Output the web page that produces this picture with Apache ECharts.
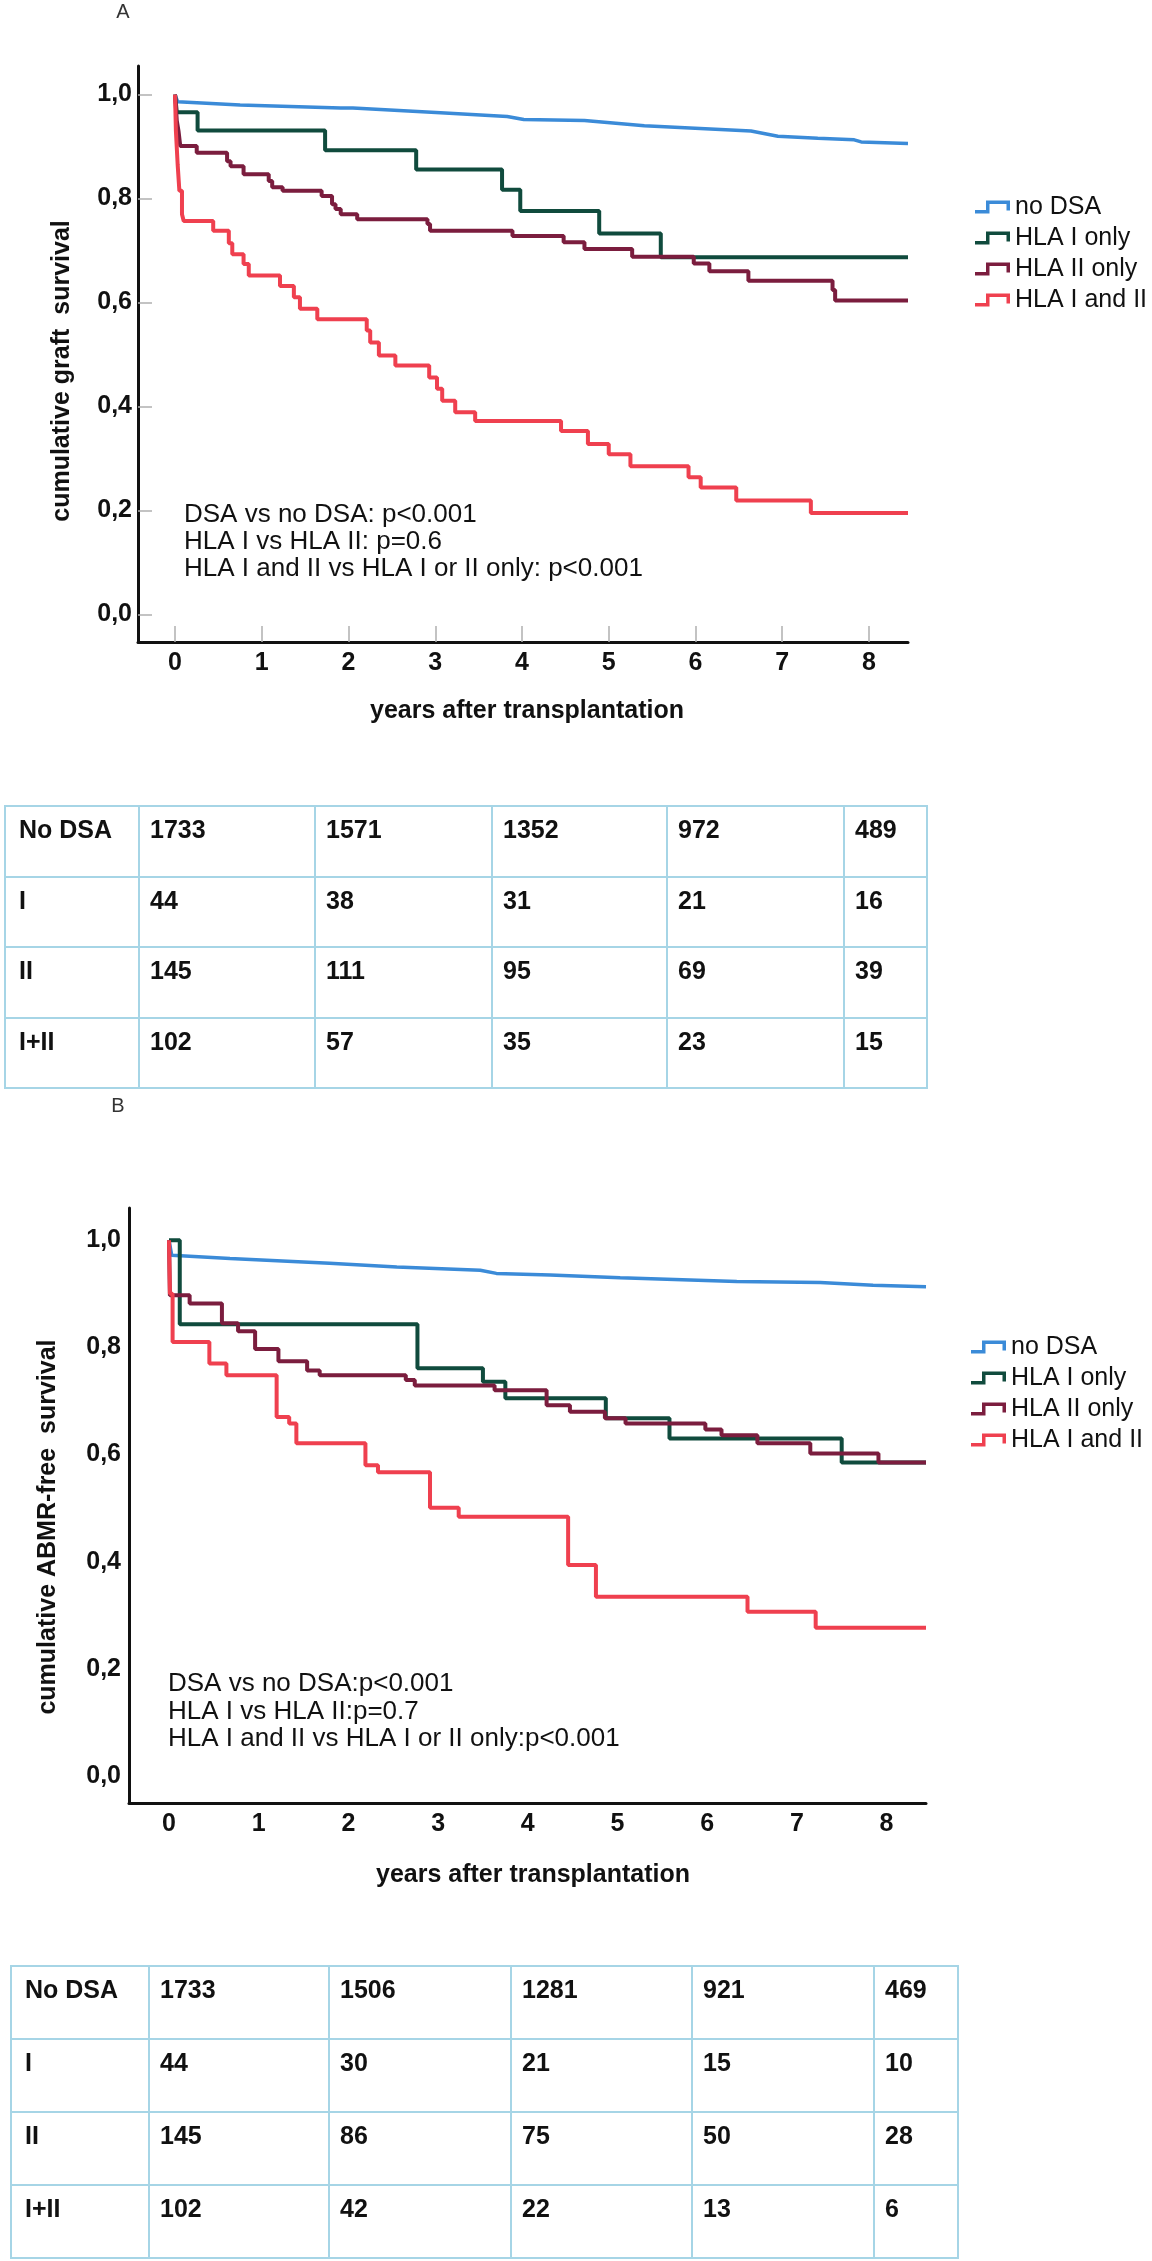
<!DOCTYPE html>
<html>
<head>
<meta charset="utf-8">
<script src="https://cdn.jsdelivr.net/npm/echarts@6/dist/echarts.min.js"></script>
<style>
  html, body { margin: 0; padding: 0; background: #fff; }
  #page { position: relative; width: 1152px; height: 2261px; }
  #chart { position: absolute; left: 0; top: 0; width: 1152px; height: 2261px; }
  table.risk { position: absolute; border-collapse: collapse; table-layout: fixed;
    font-family: 'Liberation Sans', Arial, sans-serif; font-weight: bold; font-size: 25px; color: #111; }
  table.risk td { border: 2px solid #a6d5e6; vertical-align: top; padding: 8px 0 0 10px;
    box-sizing: border-box; white-space: nowrap; overflow: hidden; }
</style>
</head>
<body>
<div id="page">
  <div id="chart"></div>
  <table class="risk" id="tableA" style="left:4px;top:805px;"></table>
  <table class="risk" id="tableB" style="left:10px;top:1965px;"></table>
</div>
<script>
// groups and colours
const groupNames = ['no DSA', 'HLA I only', 'HLA II only', 'HLA I and II']
const groupColors = ['#3b8bd8', '#104b3d', '#7b1d3e', '#ef404f']
const xTicks = [0, 1, 2, 3, 4, 5, 6, 7, 8]
const yTicks = [0, 0.2, 0.4, 0.6, 0.8, 1.0]

// A: graft survival
const aNoDsaT = [0, 0.03, 0.75, 1.91, 2.05, 3.06, 3.83, 4.02, 4.72, 5.41, 6.64, 6.95, 7.41, 7.83, 7.91, 8.45]
const aNoDsaS = [1, 0.986, 0.980, 0.974, 0.974, 0.965, 0.958, 0.952, 0.950, 0.940, 0.930, 0.920, 0.916, 0.913, 0.909, 0.906]
const aHla1T = [0, 0.02, 0.26, 1.73, 2.78, 3.77, 3.98, 4.89, 5.60, 8.45]
const aHla1S = [1, 0.966, 0.931, 0.893, 0.856, 0.817, 0.776, 0.733, 0.687, 0.687]
const aHla2T = [0, 0.02, 0.04, 0.06, 0.25, 0.60, 0.64, 0.79, 1.08, 1.12, 1.24, 1.69, 1.81, 1.85, 1.91, 2.10, 2.91, 2.94, 3.89, 4.48, 4.72, 5.27, 5.98, 6.16, 6.61, 7.58, 7.61, 8.45]
const aHla2S = [1, 0.95, 0.93, 0.901, 0.888, 0.872, 0.862, 0.847, 0.834, 0.822, 0.815, 0.805, 0.789, 0.780, 0.770, 0.760, 0.751, 0.738, 0.728, 0.716, 0.703, 0.688, 0.675, 0.660, 0.642, 0.624, 0.604, 0.604]
const aBothT = [0, 0.01, 0.03, 0.05, 0.08, 0.10, 0.44, 0.62, 0.66, 0.79, 0.85, 1.21, 1.37, 1.44, 1.64, 2.21, 2.25, 2.35, 2.54, 2.93, 3.02, 3.08, 3.23, 3.46, 4.45, 4.76, 5.00, 5.25, 5.92, 6.06, 6.47, 7.33, 8.45]
const aBothS = [1, 0.93, 0.866, 0.815, 0.770, 0.757, 0.738, 0.714, 0.693, 0.674, 0.652, 0.632, 0.610, 0.588, 0.568, 0.546, 0.523, 0.498, 0.479, 0.456, 0.434, 0.411, 0.389, 0.372, 0.353, 0.328, 0.308, 0.285, 0.264, 0.244, 0.219, 0.195, 0.195]

// B: ABMR-free survival
const bNoDsaT = [0, 0.03, 0.68, 1.79, 2.54, 3.47, 3.65, 4.25, 5.03, 6.33, 7.26, 7.85, 8.44]
const bNoDsaS = [1, 0.972, 0.966, 0.957, 0.950, 0.944, 0.938, 0.935, 0.930, 0.923, 0.921, 0.916, 0.913]
const bHla1T = [0, 0.12, 2.77, 3.50, 3.75, 4.87, 5.58, 7.50, 8.44]
const bHla1S = [1, 0.843, 0.761, 0.736, 0.705, 0.668, 0.630, 0.585, 0.585]
const bHla2T = [0, 0.01, 0.23, 0.59, 0.77, 0.96, 1.22, 1.54, 1.68, 2.64, 2.74, 3.63, 4.21, 4.47, 4.86, 5.09, 5.98, 6.16, 6.56, 7.15, 7.91, 8.44]
const bHla2S = [1, 0.897, 0.882, 0.845, 0.830, 0.797, 0.774, 0.757, 0.748, 0.739, 0.729, 0.720, 0.692, 0.680, 0.668, 0.658, 0.647, 0.636, 0.621, 0.602, 0.585, 0.585]
const bBothT = [0, 0.01, 0.04, 0.45, 0.64, 1.20, 1.34, 1.42, 2.19, 2.33, 2.91, 3.23, 4.45, 4.76, 6.45, 7.21, 8.44]
const bBothS = [1, 0.90, 0.810, 0.770, 0.748, 0.670, 0.658, 0.621, 0.580, 0.567, 0.501, 0.484, 0.394, 0.335, 0.307, 0.277, 0.277]

// numbers at risk
const riskRows = ['No DSA', 'I', 'II', 'I+II']
const riskA_noDsa = [1733, 1571, 1352, 972, 489]
const riskA_hla1 = [44, 38, 31, 21, 16]
const riskA_hla2 = [145, 111, 95, 69, 39]
const riskA_both = [102, 57, 35, 23, 15]
const riskB_noDsa = [1733, 1506, 1281, 921, 469]
const riskB_hla1 = [44, 30, 21, 15, 10]
const riskB_hla2 = [145, 86, 75, 50, 28]
const riskB_both = [102, 42, 22, 13, 6]

const notesA = ['DSA vs no DSA: p<0.001', 'HLA I vs HLA II: p=0.6', 'HLA I and II vs HLA I or II only: p<0.001']
const notesB = ['DSA vs no DSA:p<0.001', 'HLA I vs HLA II:p=0.7', 'HLA I and II vs HLA I or II only:p<0.001']

const font = "'Liberation Sans', Arial, sans-serif"
const stepIcon = 'path://M0,9.5L11,9.5L11,0L35,0L35,10L31.5,10L31.5,3.5L14.5,3.5L14.5,13L0,13Z'

function pts(times, surv) {
  return times.map((t, i) => [t, surv[i]])
}

function curve(idx, axis, times, surv, stepped) {
  return {
    name: groupNames[idx], type: 'line', xAxisIndex: axis, yAxisIndex: axis,
    data: pts(times, surv), step: stepped ? 'end' : false,
    symbol: 'none', showSymbol: false, silent: true,
    lineStyle: { color: groupColors[idx], width: idx === 0 ? 3.5 : 4 },
    itemStyle: { color: groupColors[idx] }
  }
}

function xAx(grid, min, max, ticks) {
  return {
    type: 'value', gridIndex: grid, min: min, max: max,
    axisLine: { onZero: false, lineStyle: { color: '#111', width: 3 } },
    axisTick: { show: ticks, inside: true, length: 16, customValues: xTicks, lineStyle: { color: '#b0b0b0', width: 1.5 } },
    axisLabel: { customValues: xTicks, margin: 9, fontSize: 25, fontWeight: 'bold', color: '#111', fontFamily: font },
    splitLine: { show: false }
  }
}

function yAx(grid, min, max, ticks, margin) {
  return {
    type: 'value', gridIndex: grid, min: min, max: max,
    axisLine: { show: true, onZero: false, lineStyle: { color: '#111', width: 3 } },
    axisTick: { show: ticks, inside: true, length: 14, customValues: yTicks, lineStyle: { color: '#b0b0b0', width: 1.5 } },
    axisLabel: { customValues: yTicks, margin: margin, fontSize: 25, fontWeight: 'bold', color: '#111', fontFamily: font,
      formatter: v => v.toFixed(1).replace('.', ',') },
    splitLine: { show: false }
  }
}

function legend(left, top) {
  return {
    data: groupNames, orient: 'vertical', left: left, top: top, selectedMode: false,
    icon: stepIcon, itemWidth: 35, itemHeight: 13, itemGap: 5,
    textStyle: { fontSize: 25, lineHeight: 26, color: '#111', fontFamily: font }
  }
}

function txt(x, y, text, size, bold, extra) {
  return Object.assign({
    type: 'text', x: x, y: y, silent: true,
    style: { text: text, fontSize: size, fontWeight: bold ? 'bold' : 'normal', fontFamily: font,
      fill: '#111', align: 'left', verticalAlign: 'middle' }
  }, extra || {})
}

const graphics = [
  txt(123, 12, 'A', 20, false, { style: { text: 'A', fontSize: 20, fontFamily: font, fill: '#333', align: 'center', verticalAlign: 'middle' } }),
  txt(118, 1106, 'B', 20, false, { style: { text: 'B', fontSize: 20, fontFamily: font, fill: '#333', align: 'center', verticalAlign: 'middle' } }),
  { type: 'text', x: 62, y: 371, rotation: Math.PI / 2, silent: true,
    style: { text: 'cumulative graft  survival', fontSize: 25, fontWeight: 'bold', fontFamily: font, fill: '#111', align: 'center', verticalAlign: 'middle' } },
  { type: 'text', x: 48, y: 1527, rotation: Math.PI / 2, silent: true,
    style: { text: 'cumulative ABMR-free  survival', fontSize: 25, fontWeight: 'bold', fontFamily: font, fill: '#111', align: 'center', verticalAlign: 'middle' } },
  { type: 'text', x: 527, y: 711, silent: true,
    style: { text: 'years after transplantation', fontSize: 25, fontWeight: 'bold', fontFamily: font, fill: '#111', align: 'center', verticalAlign: 'middle' } },
  { type: 'text', x: 533, y: 1875, silent: true,
    style: { text: 'years after transplantation', fontSize: 25, fontWeight: 'bold', fontFamily: font, fill: '#111', align: 'center', verticalAlign: 'middle' } }
]
notesA.forEach((s, i) => graphics.push(txt(184, 515 + i * 27, s, 26, false)))
notesB.forEach((s, i) => graphics.push(txt(168, 1684 + i * 27.5, s, 26, false)))

const chart = echarts.init(document.getElementById('chart'), null, { renderer: 'canvas' })
chart.setOption({
  animation: false,
  backgroundColor: '#fff',
  grid: [
    { left: 138, top: 66, width: 770, height: 576 },
    { left: 129, top: 1208, width: 797, height: 595 }
  ],
  xAxis: [xAx(0, -0.427, 8.45, true), xAx(1, -0.446, 8.44, false)],
  yAxis: [yAx(0, -0.053, 1.055, true, 6), yAx(1, -0.05, 1.06, false, 8)],
  legend: [legend(970, 189), legend(966, 1329)],
  graphic: { elements: graphics },
  series: [
    curve(0, 0, aNoDsaT, aNoDsaS, false),
    curve(1, 0, aHla1T, aHla1S, true),
    curve(2, 0, aHla2T, aHla2S, true),
    curve(3, 0, aBothT, aBothS, true),
    curve(0, 1, bNoDsaT, bNoDsaS, false),
    curve(1, 1, bHla1T, bHla1S, true),
    curve(2, 1, bHla2T, bHla2S, true),
    curve(3, 1, bBothT, bBothS, true)
  ]
})

function fillTable(id, rows, widths, rowH) {
  const tbl = document.getElementById(id)
  const cg = document.createElement('colgroup')
  widths.forEach(w => { const c = document.createElement('col'); c.style.width = w + 'px'; cg.appendChild(c) })
  tbl.appendChild(cg)
  tbl.style.width = widths.reduce((a, b) => a + b, 0) + 'px'
  rows.forEach((vals, r) => {
    const tr = document.createElement('tr')
    tr.style.height = rowH + 'px'
    const th = document.createElement('td')
    th.textContent = riskRows[r]
    th.style.paddingLeft = '13px'
    tr.appendChild(th)
    vals.forEach(v => { const td = document.createElement('td'); td.textContent = v; tr.appendChild(td) })
    tbl.appendChild(tr)
  })
}
fillTable('tableA', [riskA_noDsa, riskA_hla1, riskA_hla2, riskA_both], [134, 176, 177, 175, 177, 83], 70.5)
fillTable('tableB', [riskB_noDsa, riskB_hla1, riskB_hla2, riskB_both], [138, 180, 182, 181, 182, 84], 73)
</script>
</body>
</html>
